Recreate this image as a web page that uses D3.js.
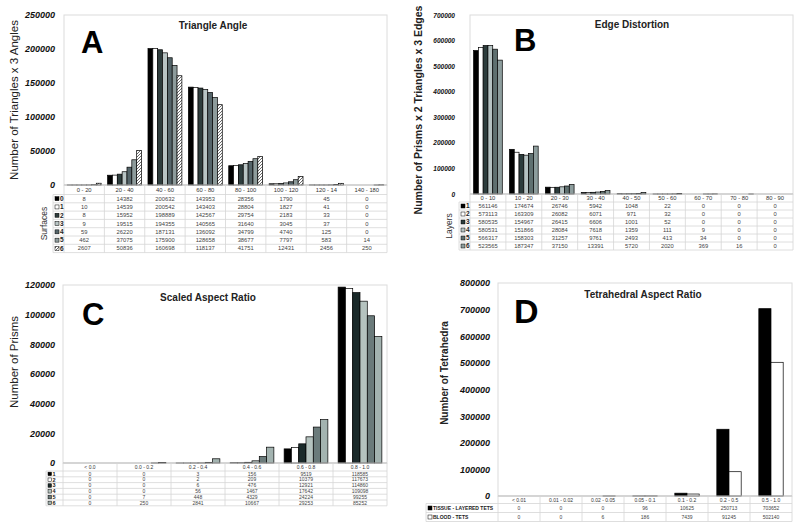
<!DOCTYPE html>
<html><head><meta charset="utf-8">
<script src="https://cdn.jsdelivr.net/npm/d3@7"></script>
<style>body{margin:0;background:#fff} svg{display:block} text{font-family:"Liberation Sans",Arial,sans-serif}</style>
</head><body><svg id="c" width="800" height="530"></svg>
<script>
// ---------- Panel A: Triangle Angle ----------
const angleBins = ["0 - 20","20 - 40","40 - 60","60 - 80","80 - 100","100 - 120","120 - 14","140 - 180"];
const angleSeries = ["0","1","2","3","4","5","6"];
const angleCounts = [
  [8,14382,200632,143953,28356,1790,45,0],
  [10,14539,200542,143403,28804,1827,41,0],
  [8,15952,198889,142567,29754,2183,33,0],
  [9,19515,194355,140565,31640,3045,37,0],
  [59,26220,187131,136092,34799,4740,125,0],
  [462,37075,175900,128658,38677,7797,583,14],
  [2607,50836,160698,118137,41751,12431,2456,250]
];
const angleTicks = [0,50000,100000,150000,200000,250000];

// ---------- Panel B: Edge Distortion ----------
const edgeBins = ["0 - 10","10 - 20","20 - 30","30 - 40","40 - 50","50 - 60","60 - 70","70 - 80","80 - 90"];
const edgeSeries = ["1","2","3","4","5","6"];
const edgeCounts = [
  [561146,174674,26746,5942,1048,22,0,0,0],
  [573113,163309,26082,6071,971,32,0,0,0],
  [580535,154967,26415,6606,1001,52,0,0,0],
  [580531,151866,28084,7618,1359,111,9,0,0],
  [566317,158303,31257,9761,2493,413,34,0,0],
  [523565,187347,37150,13391,5720,2020,369,16,0]
];
const edgeTicks = [0,100000,200000,300000,400000,500000,600000,700000];

// ---------- Panel C: Scaled Aspect Ratio ----------
const sarBins = ["< 0.0","0.0 - 0.2","0.2 - 0.4","0.4 - 0.6","0.6 - 0.8","0.8 - 1.0"];
const sarSeries = ["1","2","3","4","5","6"];
const sarCounts = [
  [0,0,3,156,9519,118585],
  [0,0,2,209,10379,117673],
  [0,0,6,476,12921,114860],
  [0,0,56,1467,17642,109098],
  [0,7,448,4329,24224,99255],
  [0,250,2841,10667,29253,85252]
];
const sarTicks = [0,20000,40000,60000,80000,100000,120000];

// ---------- Panel D: Tetrahedral Aspect Ratio ----------
const tarBins = ["< 0.01","0.01 - 0.02","0.02 - 0.05","0.05 - 0.1","0.1  - 0.2","0.2  - 0.5","0.5  - 1.0"];
const tarSeries = ["TISSUE - LAYERED TETS","BLOOD - TETS"];
const tarCounts = [
  [0,0,0,96,10625,250713,703652],
  [0,0,6,186,7439,91245,502140]
];
const tarTicks = [0,100000,200000,300000,400000,500000,600000,700000,800000];

const svg = d3.select("#c");
const defs = svg.append("defs");
const pat = defs.append("pattern").attr("id","hatch").attr("patternUnits","userSpaceOnUse")
  .attr("width",3).attr("height",3);
pat.append("rect").attr("width",3).attr("height",3).attr("fill","#fff");
pat.append("path").attr("d","M-1,1 l2,-2 M0,3 l3,-3 M2,4 l2,-2").attr("stroke","#444").attr("stroke-width",0.8);

function panel(o){
  const g = svg.append("g");
  const x = d3.scaleBand().domain(o.cats).range([o.x0,o.x1]).padding(0);
  const gw = x.bandwidth()*o.groupFrac;
  const off = (x.bandwidth()-gw)/2;
  const xs = d3.scaleBand().domain(o.series).range([0,gw]).padding(0);
  const y = d3.scaleLinear().domain([0,o.yMax]).range([o.zero,o.top]);

  // plot frame
  g.append("rect").attr("x",o.x0).attr("y",o.top).attr("width",o.x1-o.x0).attr("height",o.zero-o.top)
    .attr("fill","none").attr("stroke","#dcdcdc").attr("stroke-width",1);

  // y axis
  const ax = g.append("g").attr("transform",`translate(${o.tickRight},0)`)
    .call(d3.axisLeft(y).tickValues(o.ticks).tickSize(0).tickPadding(0).tickFormat(d3.format("d")));
  ax.select(".domain").remove();
  ax.selectAll("text").attr("font-size",o.tickFont).attr("font-weight","bold").attr("font-style","italic")
    .attr("fill","#111").attr("font-family","'Liberation Sans',Arial,sans-serif");

  // bars
  o.series.forEach((s,i)=>{
    g.append("g").selectAll("rect").data(o.values[i].map((v,j)=>({v,c:o.cats[j]})).filter(d=>d.v>0))
      .join("rect")
      .attr("x",d=>x(d.c)+off+xs(s))
      .attr("y",d=>y(d.v))
      .attr("width",xs.bandwidth())
      .attr("height",d=>o.zero-y(d.v))
      .attr("fill",o.colors[i])
      .attr("stroke","#000").attr("stroke-width",0.7);
  });

  // titles
  g.append("text").attr("x",o.titleX).attr("y",o.titleY).attr("text-anchor","middle")
    .attr("font-size",10).attr("font-weight","bold").attr("fill","#222").text(o.title);
  g.append("text").attr("x",o.letterX).attr("y",o.letterY).attr("font-size",o.letterSize)
    .attr("font-weight","bold").attr("fill","#000").text(o.letter);
  g.append("text").attr("transform",`translate(${o.yTitleX},${o.yTitleY}) rotate(-90)`)
    .attr("text-anchor","middle").attr("font-size",o.yTitleSize).attr("font-weight",o.yTitleWeight)
    .attr("fill","#222").text(o.yTitle);

  // data table
  const hb = o.zero + o.headerH;
  const tb = hb + o.rowH*o.series.length;
  const grid = "#d6d6d6";
  g.append("line").attr("x1",o.x0).attr("x2",o.x1).attr("y1",o.zero).attr("y2",o.zero).attr("stroke","#bdbdbd");
  const bounds = o.cats.map(c=>x(c)).concat([o.x1]);
  bounds.forEach(b=>g.append("line").attr("x1",b).attr("x2",b).attr("y1",o.zero).attr("y2",tb).attr("stroke",grid).attr("stroke-width",0.8));
  g.append("line").attr("x1",o.legendLeft).attr("x2",o.legendLeft).attr("y1",hb).attr("y2",tb).attr("stroke",grid).attr("stroke-width",0.8);
  for(let i=0;i<=o.series.length;i++){
    const yy = hb + i*o.rowH;
    g.append("line").attr("x1",o.legendLeft).attr("x2",o.x1).attr("y1",yy).attr("y2",yy).attr("stroke",grid).attr("stroke-width",0.8);
  }
  g.selectAll(null).data(o.cats).join("text")
    .attr("x",d=>x(d)+x.bandwidth()/2).attr("y",o.zero+o.headerH/2).attr("dy","0.35em")
    .attr("text-anchor","middle").attr("font-size",o.tableFont).attr("fill","#333")
    .attr("font-family","'Liberation Sans Narrow','Liberation Sans',Arial,sans-serif").text(d=>d);
  o.series.forEach((s,i)=>{
    const cy = hb + o.rowH*(i+0.5);
    g.selectAll(null).data(o.values[i].map((v,j)=>({v,c:o.cats[j]}))).join("text")
      .attr("x",d=>x(d.c)+x.bandwidth()/2).attr("y",cy).attr("dy","0.35em")
      .attr("text-anchor","middle").attr("font-size",o.tableFont).attr("fill","#444")
      .attr("font-family","'Liberation Sans Narrow','Liberation Sans',Arial,sans-serif").text(d=>d.v);
    const sw = o.swatch;
    g.append("rect").attr("x",o.legendLabelX).attr("y",cy-sw/2).attr("width",sw).attr("height",sw)
      .attr("fill",o.colors[i]).attr("stroke","#000").attr("stroke-width",0.5);
    g.append("text").attr("x",o.legendLabelX+sw+1).attr("y",cy).attr("dy","0.35em")
      .attr("font-size",o.legendFont).attr("font-weight","bold").attr("fill","#222").text(s);
  });
  if(o.legendTitle){
    g.append("text").attr("transform",`translate(${o.legendTitleX},${(hb+tb)/2}) rotate(-90)`)
      .attr("text-anchor","middle").attr("font-size",8.5).attr("fill","#333").text(o.legendTitle);
  }
}

panel({cats:angleBins,series:angleSeries,values:angleCounts,ticks:angleTicks,
  colors:["#000000","#ffffff","#2e3d3d","#b8c4c4","#55656a","#8d9b9b","url(#hatch)"],
  x0:64,x1:387,top:15,zero:185,yMax:250000,tickRight:55,tickFont:9,groupFrac:0.84,
  title:"Triangle Angle",titleX:213,titleY:29,letter:"A",letterX:81,letterY:53,letterSize:31,
  yTitle:"Number of Triangles x 3 Angles",yTitleX:18,yTitleY:100,yTitleSize:11.5,yTitleWeight:"normal",
  headerH:9.5,rowH:8.3,legendLeft:53,legendLabelX:55,swatch:4,legendFont:6.5,tableFont:5.8,
  legendTitle:"Surfaces",legendTitleX:47});

panel({cats:edgeBins,series:edgeSeries,values:edgeCounts,ticks:edgeTicks,
  colors:["#000000","#ffffff","#2c3c3c","#b5c2c2","#5f7070","#8d9d9d"],
  x0:470,x1:793,top:15,zero:194,yMax:700000,tickRight:455,tickFont:6.5,groupFrac:0.8,
  title:"Edge Distortion",titleX:632,titleY:28,letter:"B",letterX:514,letterY:51,letterSize:31,
  yTitle:"Number of Prisms x 2 Triangles x 3 Edges",yTitleX:422,yTitleY:110,yTitleSize:10.5,yTitleWeight:"bold",
  headerH:8,rowH:8,legendLeft:459,legendLabelX:461,swatch:4,legendFont:6.5,tableFont:5.8,
  legendTitle:"Layers",legendTitleX:452});

panel({cats:sarBins,series:sarSeries,values:sarCounts,ticks:sarTicks,
  colors:["#000000","#ffffff","#1b2a2a","#b5c3bf","#6b7b7b","#a3b3b0"],
  x0:63,x1:387,top:285,zero:463,yMax:120000,tickRight:55,tickFont:9,groupFrac:0.81,
  title:"Scaled Aspect Ratio",titleX:208,titleY:301,letter:"C",letterX:82,letterY:325,letterSize:31,
  yTitle:"Number of Prisms",yTitleX:18,yTitleY:362,yTitleSize:11.5,yTitleWeight:"normal",
  headerH:8,rowH:5.8,legendLeft:46,legendLabelX:48,swatch:3.5,legendFont:5.5,tableFont:5,
  legendTitle:null});

panel({cats:tarBins,series:tarSeries,values:tarCounts,ticks:tarTicks,
  colors:["#000000","#ffffff"],
  x0:498,x1:792,top:283,zero:496,yMax:800000,tickRight:490,tickFont:9,groupFrac:0.58,
  title:"Tetrahedral Aspect Ratio",titleX:643,titleY:298,letter:"D",letterX:514,letterY:323,letterSize:34,
  yTitle:"Number of Tetrahedra",yTitleX:448,yTitleY:373,yTitleSize:10,yTitleWeight:"bold",
  headerH:7.5,rowH:9,legendLeft:426,legendLabelX:428,swatch:4,legendFont:5,tableFont:5,
  legendTitle:null});
</script></body></html>
